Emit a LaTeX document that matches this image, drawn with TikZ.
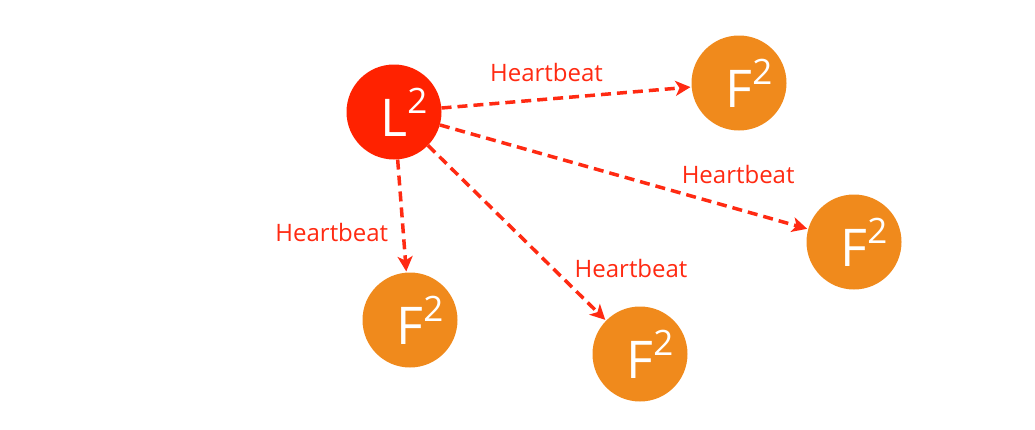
\documentclass[tikz,border=0pt]{standalone}
\usepackage{fontspec}
\setmainfont{Open Sans}
\usepackage{xcolor}
\usepackage{tikz}
\usetikzlibrary{positioning}
\usetikzlibrary{arrows.meta}
\definecolor{leadred}{HTML}{FF2200}
\definecolor{folorange}{HTML}{F08A1C}
\definecolor{beatred}{HTML}{FF2A12}
\newcommand{\sqd}{\raisebox{23pt}{\fontsize{35}{35}\selectfont 2}}

\begin{document}
\begin{tikzpicture}[>={Stealth[length=15pt,width=15pt,inset=4pt]},shorten >=1pt,on grid,
                    leader/.style={circle,fill=leadred,text=white,minimum size=95pt,inner sep=0pt,
                      font=\fontsize{52}{52}\selectfont,execute at begin node=\hspace*{20pt}},
                    follower/.style={leader,fill=folorange},
                    beat/.style={->,draw=beatred,line width=3.5pt,dash pattern=on 10pt off 6pt},
                    lbl/.style={text=beatred,font=\fontsize{24}{24}\selectfont}]
\useasboundingbox (0,0) rectangle (1035pt,-429pt);
\node[leader] (l2) at (394pt,-112pt) {L\sqd};
\node[follower,above right = 29pt and 345pt of l2] (f1) {F\sqd};
\node[follower,below right = 130pt and 460pt of l2] (f2) {F\sqd};
\node[follower,below right = 208pt and 16pt of l2] (f3) {F\sqd};
\node[follower,below right = 242pt and 246pt of l2] (f4) {F\sqd};
\path (l2) edge [beat] node [lbl,pos=0.42,above=12pt] {Heartbeat} (f1)
           edge [beat] node [lbl,pos=0.81,above=20pt] {Heartbeat} (f2)
           edge [beat] node [lbl,pos=0.65,left=10pt] {Heartbeat} (f3)
           edge [beat] node [lbl,pos=0.70,right=17pt] {Heartbeat} (f4);
\end{tikzpicture}
\end{document}
